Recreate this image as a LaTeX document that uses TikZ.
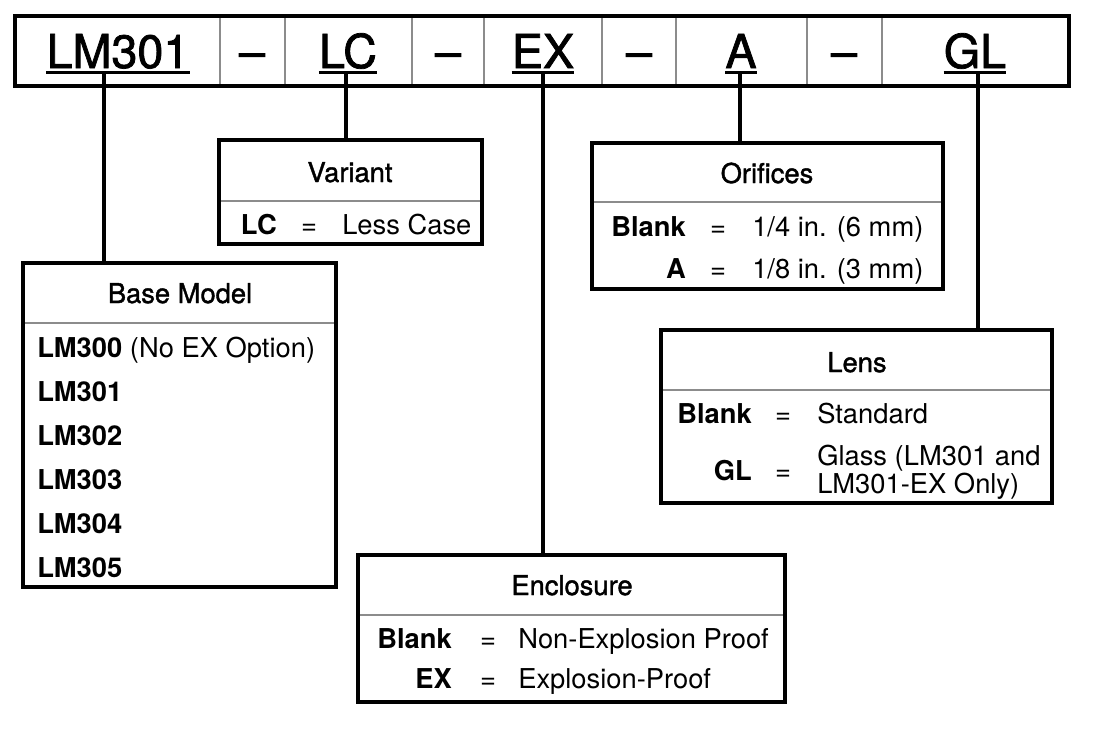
\documentclass[tikz,border=0pt]{standalone}
\usepackage{fontspec}
\setmainfont{TeX Gyre Heros}
\newfontfamily\hdrfont{TeX Gyre Heros}[FakeBold=1.6]
\newfontfamily\medfont{TeX Gyre Heros}[FakeBold=1.4]
\usetikzlibrary{fit}
\begin{document}
\begin{tikzpicture}[x=0.75pt,y=-0.75pt,
  boxnode/.style={draw, line width=3pt, inner sep=0pt},
  conn/.style={line width=3pt},
  gline/.style={draw=black!45, line width=1.1pt},
  uline/.style={line width=1.8pt},
  hdr/.style={inner sep=0pt, anchor=base, font=\hdrfont\fontsize{35}{40}\selectfont},
  ttl/.style={inner sep=0pt, anchor=base, font=\medfont\fontsize{20.5}{24}\selectfont},
  lbl/.style={inner sep=0pt, anchor=base east, font=\fontsize{20.5}{24}\selectfont\bfseries},
  lbw/.style={inner sep=0pt, anchor=base west, font=\fontsize{20.5}{24}\selectfont},
  eqs/.style={inner sep=0pt, anchor=base, font=\fontsize{20.5}{24}\selectfont},
  val/.style={inner sep=0pt, anchor=base west, font=\fontsize{20.5}{24}\selectfont}]
\useasboundingbox (0,0) rectangle (1104,729);
% header bar
\node[boxnode, fit={(15,16) (1069,86)}] (bar) {};
\foreach \xx in {220,285,412,484,602,676,807,882}
  \draw[gline] (\xx,18) -- (\xx,84);
\node[hdr] (hLM) at (118,68) {LM301};
\node[hdr] (d1) at (252,68) {–};
\node[hdr] (hLC) at (348,68) {LC};
\node[hdr] (d2) at (448,68) {–};
\node[hdr] (hEX) at (543,68) {EX};
\node[hdr] (d3) at (639,68) {–};
\node[hdr] (hA) at (741,68) {A};
\node[hdr] (d4) at (844,68) {–};
\node[hdr] (hGL) at (975,68) {GL};
\foreach \n in {hLM,hLC,hEX,hA,hGL}
  \draw[uline] ([yshift=-3.4pt]\n.base west) -- ([yshift=-3.4pt]\n.base east);
% boxes
\node[boxnode, fit={(219,140) (482,244)}] (var) {};
\node[boxnode, fit={(23,263) (336,587)}] (base) {};
\node[boxnode, fit={(592,143) (943,289)}] (ori) {};
\node[boxnode, fit={(661,330) (1052,503)}] (lens) {};
\node[boxnode, fit={(358,555) (785,702)}] (enc) {};
% inner dividers
\draw[gline] (221,201) -- (480,201);
\draw[gline] (25,323) -- (334,323);
\draw[gline] (594,202) -- (941,202);
\draw[gline] (663,390) -- (1050,390);
\draw[gline] (360,615) -- (783,615);
% connectors
\coordinate (cLM) at (104,73);
\coordinate (cLC) at (346,73);
\coordinate (cEX) at (543,73);
\coordinate (cA) at (740,73);
\coordinate (cGL) at (978,73);
\draw[conn] (cLM) -- (cLM |- base.north);
\draw[conn] (cLC) -- (cLC |- var.north);
\draw[conn] (cEX) -- (cEX |- enc.north);
\draw[conn] (cA) -- (cA |- ori.north);
\draw[conn] (cGL) -- (cGL |- lens.north);
% Variant
\node[ttl] (tvar) at (350,182) {Variant};
\node[lbl] (vLC) at (277,234) {LC};
\node[eqs] (vEq) at (309,234) {=};
\node[val] (vVal) at (342,234) {Less Case};
% Base Model
\node[ttl] (tbase) at (180,303) {Base Model};
\node[lbw] (b0) at (37,357) {\textbf{LM300} (No EX Option)};
\node[lbw] (b1) at (37,401) {\textbf{LM301}};
\node[lbw] (b2) at (37,445) {\textbf{LM302}};
\node[lbw] (b3) at (37,489) {\textbf{LM303}};
\node[lbw] (b4) at (37,533) {\textbf{LM304}};
\node[lbw] (b5) at (37,577) {\textbf{LM305}};
% Orifices
\node[ttl] (tori) at (767,183) {Orifices};
\node[lbl] (oL1) at (686,236) {Blank};
\node[eqs] (oE1) at (718,236) {=};
\node[val] (oV1) at (752,236) {1/4 in. (6 mm)};
\node[lbl] (oL2) at (686,278) {A};
\node[eqs] (oE2) at (718,278) {=};
\node[val] (oV2) at (752,278) {1/8 in. (3 mm)};
% Lens
\node[ttl] (tlens) at (857,372) {Lens};
\node[lbl] (lL1) at (752,423) {Blank};
\node[eqs] (lE1) at (783,423) {=};
\node[val] (lV1) at (817,423) {Standard};
\node[lbl] (lL2) at (752,480) {GL};
\node[eqs] (lE2) at (783,480) {=};
\node[val] (lV2a) at (817,465) {Glass (LM301 and};
\node[val] (lV2b) at (817,493) {LM301-EX Only)};
% Enclosure
\node[ttl] (tenc) at (572,595) {Enclosure};
\node[lbl] (eL1) at (452,648) {Blank};
\node[eqs] (eE1) at (488,648) {=};
\node[val] (eV1) at (518,648) {Non-Explosion Proof};
\node[lbl] (eL2) at (452,688) {EX};
\node[eqs] (eE2) at (488,688) {=};
\node[val] (eV2) at (518,688) {Explosion-Proof};
\end{tikzpicture}
\end{document}
